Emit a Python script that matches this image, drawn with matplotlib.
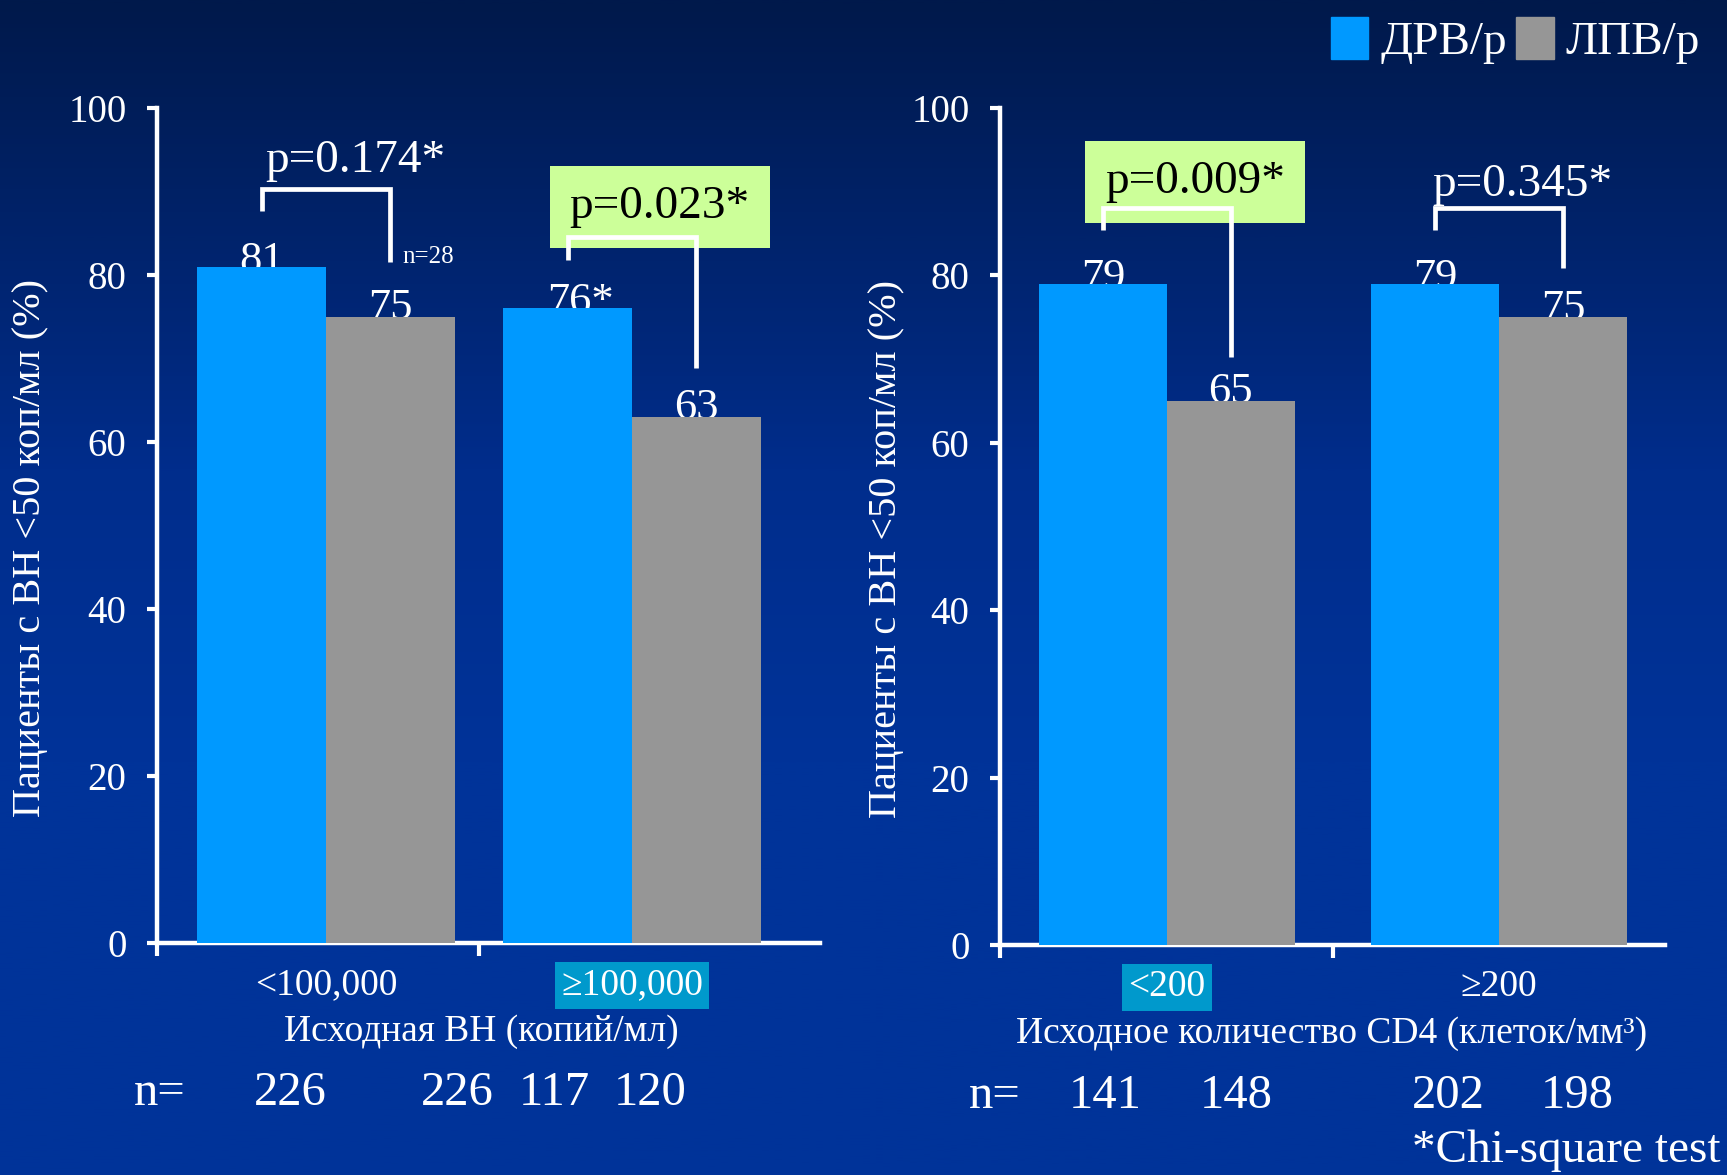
import numpy as np
import matplotlib.pyplot as plt
from matplotlib.patches import Patch
from matplotlib.colors import LinearSegmentedColormap

plt.rcParams['font.family'] = ['Liberation Serif', 'DejaVu Serif']

# данные
series = ['ДРВ/р', 'ЛПВ/р']
yticks = [0, 20, 40, 60, 80, 100]

vl_cats = ['<100,000', '≥100,000']
vl_drv = [81, 76]
vl_lpv = [75, 63]
vl_drv_labels = ['81', '76*']
vl_p = ['p=0.174*', 'p=0.023*']
vl_n = [226, 226, 117, 120]

cd4_cats = ['<200', '≥200']
cd4_drv = [79, 79]
cd4_lpv = [65, 75]
cd4_drv_labels = ['79', '79']
cd4_p = ['p=0.009*', 'p=0.345*']
cd4_n = [141, 148, 202, 198]

BLUE = '#0099FF'
GRAY = '#969696'
GREEN = '#CCFF99'
TEAL = '#0099CC'
W, H = 1727, 1175


def px_rect(x0, x1, y_top, y_bottom):
    return [x0 / W, 1 - y_bottom / H, (x1 - x0) / W, (y_bottom - y_top) / H]


def draw_panel(ax, cats, drv, lpv, drv_labels, pvals, nvals, lay):
    x = np.arange(len(cats))
    w = lay['w']
    ax.bar(x - w / 2, drv, w, color=BLUE, zorder=3)
    ax.bar(x + w / 2, lpv, w, color=GRAY, zorder=3)
    ax.set_xlim(*lay['xlim'])
    ax.set_ylim(0, 100)
    ax.set_facecolor('none')

    for i in range(len(cats)):
        ax.text(x[i] - w / 2 + lay['lab_dx'][i], drv[i] - 0.6, drv_labels[i],
                ha='center', va='baseline', fontsize=32, color='white', zorder=2)
        ax.text(x[i] + w / 2, lpv[i] - 0.3, str(lpv[i]),
                ha='center', va='baseline', fontsize=32, color='white', zorder=2)

        # скобка и p
        yt, yl, yr = lay['brackets'][i]
        ax.plot([x[i] - w / 2, x[i] - w / 2, x[i] + w / 2, x[i] + w / 2],
                [yl, yt, yt, yr], color='white', lw=3.4, zorder=6,
                solid_joinstyle='miter', solid_capstyle='butt', clip_on=False)
        px, py = lay['p_pos'][i]
        if i in lay['p_hl']:
            ax.text(x[i] + px, py, pvals[i], ha='center', va='baseline',
                    fontsize=34, color='black', zorder=5, clip_on=False,
                    bbox=dict(boxstyle='square,pad=0.42', fc=GREEN, ec='none'))
        else:
            ax.text(x[i] + px, py, pvals[i], ha='center', va='baseline',
                    fontsize=34, color='white', zorder=5, clip_on=False)

    for s in ['top', 'right']:
        ax.spines[s].set_visible(False)
    for s in ['left', 'bottom']:
        ax.spines[s].set_color('white')
        ax.spines[s].set_linewidth(3.2)

    ax.set_yticks(yticks)
    ax.tick_params(axis='y', colors='white', labelsize=28, length=7, width=3,
                   pad=15)
    ax.set_xticks(x)
    ax.set_xticklabels(cats)
    ax.tick_params(axis='x', which='major', colors='white', labelsize=27,
                   length=0, pad=18)
    ax.set_xticks([lay['xlim'][0], 0.5], minor=True)
    ax.tick_params(axis='x', which='minor', color='white', length=9, width=3)
    hl = ax.get_xticklabels()[lay['tick_hl']]
    hl.set_bbox(dict(boxstyle='square,pad=0.16', fc=TEAL, ec='none'))

    ax.set_xlabel(lay['xlabel'], fontsize=27, color='white', va='center')
    ax.xaxis.set_label_coords(lay['xlabel_pos'], -0.106)
    ax.set_ylabel('Пациенты с ВН <50 коп/мл (%)', fontsize=29,
                  color='white', va='center')
    ax.yaxis.set_label_coords(lay['ylabel_x'], 0.473)

    tr = ax.get_xaxis_transform()
    ax.text(lay['n_pos'][0], -0.18, 'n=', transform=tr, ha='left',
            va='center', fontsize=35, color='white', clip_on=False)
    for xp, n in zip(lay['n_pos'][1:], nvals):
        ax.text(xp, -0.18, str(n), transform=tr, ha='center', va='center',
                fontsize=35, color='white', clip_on=False)


fig = plt.figure(figsize=(W / 100, H / 100), dpi=100)

# фон
bg = fig.add_axes([0, 0, 1, 1], zorder=-10)
grad = np.linspace(0, 1, 400).reshape(-1, 1)
cmap = LinearSegmentedColormap.from_list(
    'bg', [(0, '#00194b'), (0.4, '#002d8c'), (0.65, '#003399'), (1, '#003399')])
bg.imshow(grad, aspect='auto', cmap=cmap, extent=[0, 1, 0, 1])
bg.axis('off')

ax1 = fig.add_axes(px_rect(157, 820, 108, 943))
ax2 = fig.add_axes(px_rect(1000, 1665, 108, 945))

lay1 = dict(w=0.42, xlim=(-0.552, 1.614), lab_dx=[0.0, 0.04],
            brackets=[(90.3, 87.7, 81.5), (84.6, 81.8, 68.9)],
            p_pos=[(0.095, 92.3), (0.09, 86.8)], p_hl=[1], tick_hl=1,
            xlabel='Исходная ВН (копий/мл)', xlabel_pos=0.489, ylabel_x=-0.19,
            n_pos=[-0.627, -0.118, 0.428, 0.745, 1.059])
lay2 = dict(w=0.385, xlim=(-0.503, 1.5), lab_dx=[0.0, 0.0],
            brackets=[(88.0, 85.4, 70.3), (88.0, 85.4, 80.9)],
            p_pos=[(0.084, 89.8), (0.07, 89.5)], p_hl=[0], tick_hl=0,
            xlabel='Исходное количество CD4 (клеток/мм³)', xlabel_pos=0.499,
            ylabel_x=-0.17,
            n_pos=[-0.596, -0.187, 0.208, 0.846, 1.235])

draw_panel(ax1, vl_cats, vl_drv, vl_lpv, vl_drv_labels, vl_p, vl_n, lay1)
ax1.text(0.248, 81.4, 'n=28', ha='left', va='baseline', fontsize=18,
         color='white')
draw_panel(ax2, cd4_cats, cd4_drv, cd4_lpv, cd4_drv_labels, cd4_p, cd4_n, lay2)

fig.legend(handles=[Patch(color=BLUE), Patch(color=GRAY)], labels=series,
           loc='upper left', bbox_to_anchor=(1300 / W, 1.012), ncol=2,
           frameon=False, fontsize=34, labelcolor='white', handlelength=0.8,
           handleheight=1.0, handletextpad=0.25, columnspacing=0.2,
           borderpad=0.15)

fig.text(1720 / W, 1 - 1151 / H, '*Chi-square test', ha='right', va='center',
         fontsize=34, color='white')

fig.savefig('out.png', dpi=100)
